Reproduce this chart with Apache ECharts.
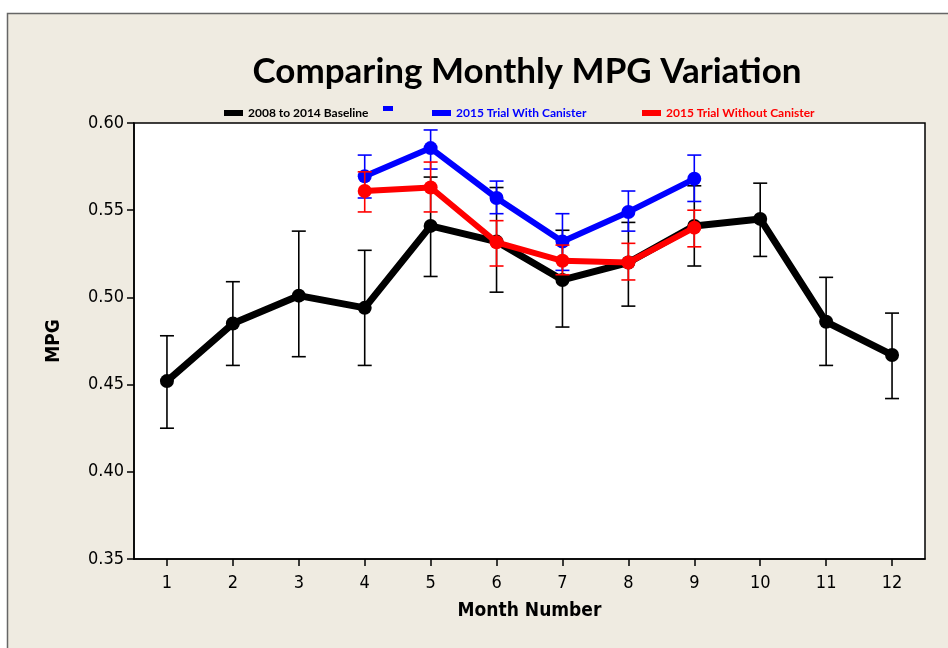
<!DOCTYPE html>
<html><head><meta charset="utf-8">
<script src="https://cdn.jsdelivr.net/npm/echarts@6/dist/echarts.min.js"></script>
<style>html,body{margin:0;padding:0;background:#fff}#c{width:948px;height:648px}</style>
</head><body><div id="c"></div>
<script>
const months = [1,2,3,4,5,6,7,8,9,10,11,12];
const yTicks = [0.35,0.40,0.45,0.50,0.55,0.60];
const baseMean = [0.452,0.485,0.501,0.494,0.541,0.532,0.510,0.520,0.541,0.545,0.486,0.467];
const baseLow  = [0.425,0.461,0.466,0.461,0.512,0.503,0.483,0.495,0.518,0.5235,0.461,0.442];
const baseHigh = [0.478,0.509,0.538,0.527,0.569,0.563,0.5385,0.543,0.564,0.5655,0.5115,0.491];
const withMonths = [4,5,6,7,8,9];
const withMean = [0.5695,0.5856,0.557,0.532,0.549,0.568];
const withLow  = [0.557,0.5736,0.548,0.5155,0.538,0.555];
const withHigh = [0.5816,0.596,0.5667,0.548,0.561,0.5816];
const withoutMean = [0.561,0.563,0.5316,0.521,0.520,0.540];
const withoutLow  = [0.549,0.549,0.518,0.513,0.510,0.529];
const withoutHigh = [0.572,0.5776,0.544,0.530,0.531,0.550];
const names = ['2008 to 2014 Baseline','2015 Trial With Canister','2015 Trial Without Canister'];

function pts(xs, ys){ return xs.map((x,i)=>[x, ys[i]]); }
function errData(xs, lo, hi){ return xs.map((x,i)=>[x, lo[i], hi[i]]); }
function errSeries(name, xs, lo, hi, color, z){
  return {
    type:'custom', name:name, z:z, silent:true, itemStyle:{color:color},
    data: errData(xs, lo, hi),
    encode:{x:0, y:[1,2]},
    renderItem:function(params, api){
      const x = api.value(0);
      const p1 = api.coord([x, api.value(1)]);
      const p2 = api.coord([x, api.value(2)]);
      const w = 7;
      const st = {stroke:color, lineWidth:1.6};
      return {type:'group', children:[
        {type:'line', shape:{x1:p1[0],y1:p1[1],x2:p2[0],y2:p2[1]}, style:st},
        {type:'line', shape:{x1:p1[0]-w,y1:p1[1],x2:p1[0]+w,y2:p1[1]}, style:st},
        {type:'line', shape:{x1:p2[0]-w,y1:p2[1],x2:p2[0]+w,y2:p2[1]}, style:st}
      ]};
    }
  };
}
function lineSeries(name, xs, ys, color, z, lw){
  return {type:'line', name:name, z:z, data:pts(xs, ys), symbol:'circle', symbolSize:14,
    lineStyle:{color:color, width:lw}, itemStyle:{color:color}, emphasis:{disabled:true}};
}
const legFont = {fontFamily:'Lato, "Open Sans", sans-serif', fontWeight:'bold', fontSize:12};
function leg(name, left, color){
  return {show:true, data:[{name:name, itemStyle:{color:color}}], left:left, top:102, icon:'rect', itemWidth:19, itemHeight:6, itemGap:0,
    textStyle:Object.assign({color:color}, legFont), selectedMode:false};
}
const axFont = '"DejaVu Sans Condensed","DejaVu Sans",sans-serif';
const chart = echarts.init(document.getElementById('c'), null, {renderer:'canvas'});
chart.setOption({
  backgroundColor:'#ffffff',
  animation:false,
  graphic:[
    {type:'rect', z:-10, shape:{x:7.5,y:13.5,width:945,height:640}, style:{fill:'#efebe1', stroke:'#666', lineWidth:1.5}},
    {type:'rect', z:-9, shape:{x:383,y:106,width:10,height:5}, style:{fill:'#0000ff'}}
  ],
  title:{text:'Comparing Monthly MPG Variation', left:522, textAlign:'center', top:49,
    textStyle:{fontFamily:'Lato, "Open Sans", sans-serif', fontWeight:'bold', fontSize:35, color:'#000'}},
  legend:[ leg(names[0], 219, '#000'), leg(names[1], 427, '#0000ff'), leg(names[2], 637, '#ff0000') ],
  grid:{left:134, right:23, top:123, bottom:89, show:true, backgroundColor:'#fff', borderColor:'#000', borderWidth:1.5},
  xAxis:{type:'value', min:0.5, max:12.5, interval:1,
    name:'Month Number', nameLocation:'middle', nameGap:43,
    nameTextStyle:{fontFamily:axFont, fontWeight:'bold', fontSize:19, color:'#000'},
    axisLine:{show:true, onZero:false, lineStyle:{color:'#000', width:1.5}},
    axisTick:{show:true, length:7, lineStyle:{color:'#000', width:1.5}, customValues:months},
    axisLabel:{customValues:months, margin:15, fontFamily:axFont, fontSize:18, color:'#000'},
    splitLine:{show:false}},
  yAxis:{type:'value', min:0.35, max:0.60, interval:0.05,
    name:'MPG', nameLocation:'middle', nameGap:70, nameRotate:90,
    nameTextStyle:{fontFamily:axFont, fontWeight:'bold', fontSize:19, color:'#000'},
    axisLine:{show:true, onZero:false, lineStyle:{color:'#000', width:1.5}},
    axisTick:{show:true, length:7, lineStyle:{color:'#000', width:1.5}, customValues:yTicks},
    axisLabel:{customValues:yTicks, margin:10, formatter:v=>v.toFixed(2), fontFamily:axFont, fontSize:18, color:'#000'},
    splitLine:{show:false}},
  series:[
    errSeries(names[0], months, baseLow, baseHigh, '#000', 2),
    lineSeries(names[0], months, baseMean, '#000', 3, 7),
    errSeries(names[1], withMonths, withLow, withHigh, '#0000ff', 4),
    lineSeries(names[1], withMonths, withMean, '#0000ff', 5, 6),
    errSeries(names[2], withMonths, withoutLow, withoutHigh, '#ff0000', 6),
    lineSeries(names[2], withMonths, withoutMean, '#ff0000', 7, 6)
  ]
});
</script></body></html>
